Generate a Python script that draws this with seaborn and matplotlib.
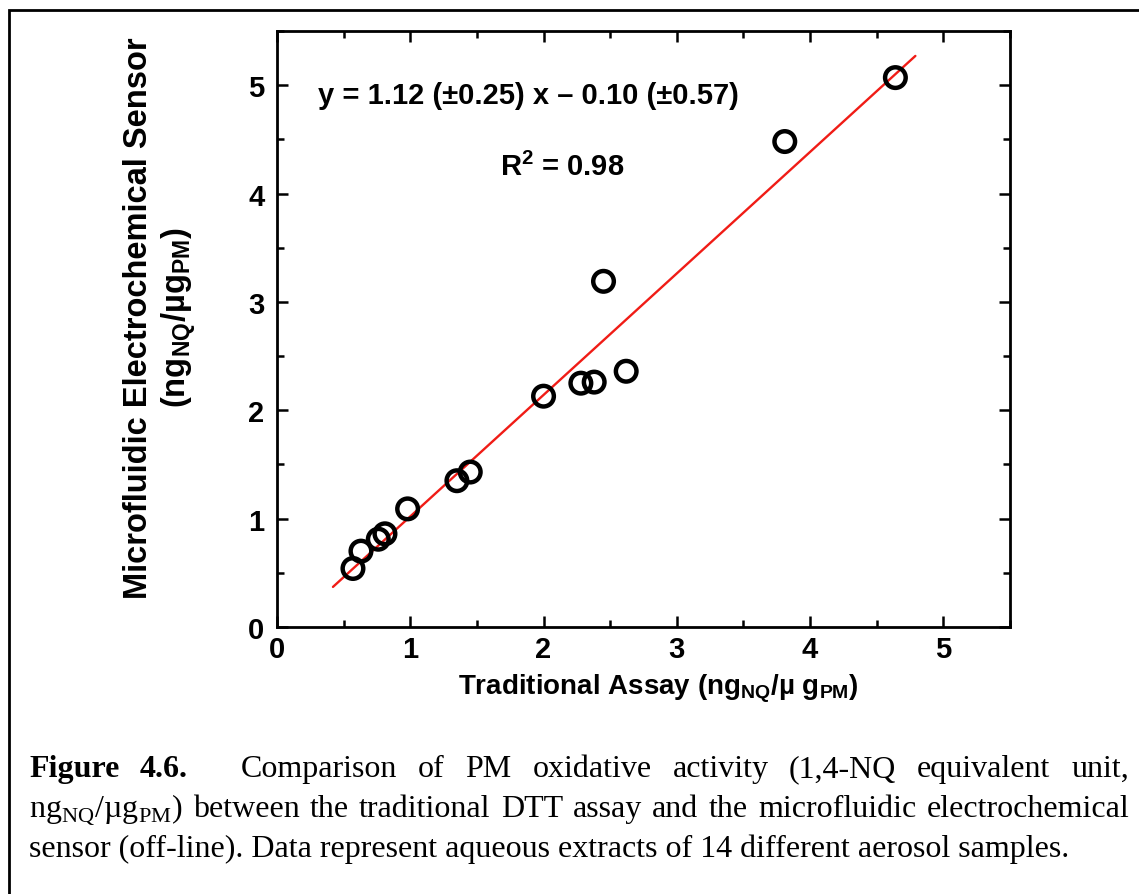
import matplotlib
matplotlib.use("Agg")
import matplotlib.pyplot as plt
from matplotlib.ticker import MultipleLocator
from matplotlib.patches import Rectangle
import seaborn as sns
import pandas as pd

# ---------------- data ----------------
x_assay = [0.57, 0.63, 0.76, 0.81, 0.98, 1.35, 1.45, 2.00, 2.28, 2.38, 2.62, 2.45, 3.81, 4.64]
y_sensor = [0.54, 0.70, 0.81, 0.86, 1.09, 1.35, 1.43, 2.13, 2.25, 2.26, 2.36, 3.19, 4.48, 5.07]
fit_x = [0.42, 4.79]
fit_y = [0.37, 5.27]
x_ticks = [0, 1, 2, 3, 4, 5]
y_ticks = [0, 1, 2, 3, 4, 5]
equation_text = "y = 1.12 (±0.25) x – 0.10 (±0.57)"
r2_text = r"R$^{\mathregular{2}}$ = 0.98"
x_label = r"Traditional Assay (ng$_{\mathregular{NQ}}$/µ g$_{\mathregular{PM}}$)"
y_label = ("Microfluidic Electrochemical Sensor\n"
           r"(ng$_{\mathregular{NQ}}$/µg$_{\mathregular{PM}}$)")
caption_line1 = [("Figure", "bold"), ("4.6.", "bold"), ("Comparison", "normal"), ("of", "normal"),
                 ("PM", "normal"), ("oxidative", "normal"), ("activity", "normal"),
                 ("(1,4-NQ", "normal"), ("equivalent", "normal"), ("unit,", "normal")]
caption_line2 = [(r"ng$_{\mathregular{NQ}}$/µg$_{\mathregular{PM}}$)", "normal"), ("between", "normal"),
                 ("the", "normal"), ("traditional", "normal"), ("DTT", "normal"), ("assay", "normal"),
                 ("and", "normal"), ("the", "normal"), ("microfluidic", "normal"),
                 ("electrochemical", "normal")]
caption_line3 = "sensor (off-line). Data represent aqueous extracts of 14 different aerosol samples."

# ---------------- style ----------------
sns.set_theme(style="ticks")
plt.rcParams['font.family'] = ['Liberation Sans', 'DejaVu Sans']
plt.rcParams.update({
    'axes.linewidth': 2.0,
    'axes.edgecolor': 'black',
    'text.color': 'black',
    'axes.labelcolor': 'black',
    'xtick.color': 'black',
    'ytick.color': 'black',
    'xtick.labelcolor': 'black',
    'ytick.labelcolor': 'black',
})

W, H = 1139, 895
fig = plt.figure(figsize=(W / 100, H / 100), dpi=100)
fig.patch.set_facecolor('white')
ax = fig.add_axes([277 / W, 1 - 628 / H, (1010 - 277) / W, (628 - 32) / H])
ax.set_facecolor('white')

df = pd.DataFrame({"assay": x_assay, "sensor": y_sensor})
fit_df = pd.DataFrame({"assay": fit_x, "sensor": fit_y})

sns.lineplot(data=fit_df, x="assay", y="sensor", color="#f01c16", linewidth=1.7, ax=ax,
             legend=False, zorder=2)
sns.scatterplot(data=df, x="assay", y="sensor", marker="o", s=220, ax=ax,
                legend=False, zorder=3)
pts = ax.collections[-1]
pts.set_facecolor('none')
pts.set_edgecolor('black')
pts.set_linewidth(3.2)

ax.set_xlim(0, 5.5)
ax.set_ylim(0, 5.5)
ax.set_xticks(x_ticks)
ax.set_yticks(y_ticks)
ax.set_xticklabels([str(v) for v in x_ticks])
ax.set_yticklabels([str(v) for v in y_ticks])
ax.xaxis.set_minor_locator(MultipleLocator(0.5))
ax.yaxis.set_minor_locator(MultipleLocator(0.5))
ax.tick_params(which='both', direction='in', top=True, right=True, color='black', width=1.8)
ax.tick_params(which='major', length=8, labelsize=21)
ax.tick_params(which='minor', length=5)
ax.tick_params(axis='x', which='major', pad=6)
ax.tick_params(axis='y', which='major', pad=9)
for lbl in ax.get_xticklabels() + ax.get_yticklabels():
    lbl.set_fontweight('bold')
    lbl.set_color('black')
for s in ax.spines.values():
    s.set_linewidth(2.0)
    s.set_color('black')

ax.set_xlabel(x_label, fontsize=20, fontweight='bold', color='black')
ax.xaxis.set_label_coords(0.52, -0.075)
ax.set_ylabel(y_label, fontsize=23.5, fontweight='bold', linespacing=1.2, color='black')
ax.yaxis.set_label_coords(-0.108, 0.52)

ax.text(0.31, 4.91, equation_text, fontsize=21, fontweight='bold', ha='left', va='center',
        color='black')
ax.text(1.67, 4.25, r2_text, fontsize=21, fontweight='bold', ha='left', va='center',
        color='black')

# ---------------- outer frame ----------------
fig.patches.append(Rectangle((9 / W, -0.2), 2.0, 1.2 - 11 / H, transform=fig.transFigure,
                             fill=False, edgecolor='black', linewidth=2.0))

# ---------------- caption ----------------
cap_fs = 23
serif = ['Liberation Serif', 'DejaVu Serif']
renderer = fig.canvas.get_renderer()
left_px, right_px = 29, 1129


def justified(tokens, base_px, extra_after=None):
    texts = []
    for tok, weight in tokens:
        t = fig.text(0, 1 - base_px / H, tok, fontsize=cap_fs, fontweight=weight, family=serif,
                     ha='left', va='baseline', color='black')
        texts.append(t)
    widths = [t.get_window_extent(renderer).width for t in texts]
    extra = extra_after[1] if extra_after else 0
    gap = (right_px - left_px - sum(widths) - extra) / (len(texts) - 1)
    x = left_px
    for i, (t, w) in enumerate(zip(texts, widths)):
        t.set_x(x / W)
        x += w + gap
        if extra_after and i == extra_after[0]:
            x += extra


justified(caption_line1, 777, extra_after=(1, 32))
justified(caption_line2, 817)
fig.text(left_px / W, 1 - 857 / H, caption_line3, fontsize=cap_fs, family=serif,
         ha='left', va='baseline', color='black')

fig.savefig("out.png", dpi=100, facecolor='white')
